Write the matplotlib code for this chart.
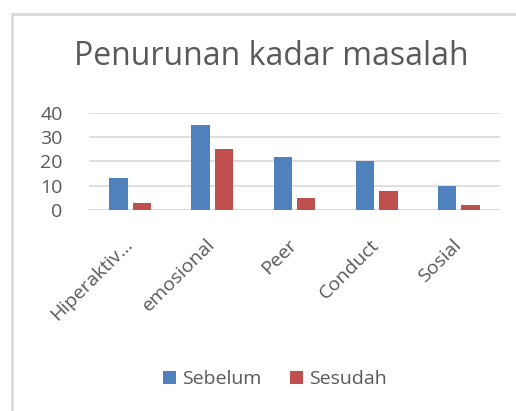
import numpy as np
import matplotlib
matplotlib.use('Agg')
import matplotlib.pyplot as plt
from matplotlib.patches import Rectangle

# data
categories = ['Hiperaktiv…', 'emosional', 'Peer', 'Conduct', 'Sosial']
sebelum = [13, 35, 22, 20, 10]
sesudah = [3, 25, 5, 8, 2]
y_ticks = [0, 10, 20, 30, 40]

BLUE = '#4F81BD'
RED = '#C0504D'
TEXT = '#595959'
GRID = '#D9D9D9'

plt.rcParams['font.family'] = ['Open Sans', 'DejaVu Sans']

W, H = 516, 411
fig = plt.figure(figsize=(W / 100, H / 100), dpi=100)

# light grey chart frame (only left and top edges visible)
fig.patches.append(Rectangle((12 / W, -0.1), 1.2, 1 - 14 / H + 0.1,
                             transform=fig.transFigure, fill=False,
                             edgecolor=GRID, linewidth=2))

# plot area in pixel coordinates
ax = fig.add_axes([89 / W, (H - 210) / H, 411 / W, 97 / H])

x = np.arange(len(categories))
bw = 0.225
ax.bar(x - 0.142, sebelum, bw, color=BLUE, label='Sebelum', zorder=3)
ax.bar(x + 0.142, sesudah, bw, color=RED, label='Sesudah', zorder=3)

ax.set_xlim(-0.5, len(categories) - 0.5)
ax.set_ylim(0, 40)
ax.set_yticks(y_ticks)
ax.grid(axis='y', color=GRID, linewidth=1.2, zorder=0)
for s in ax.spines.values():
    s.set_visible(False)
ax.axhline(0, color=GRID, linewidth=1.2, zorder=1)

ax.tick_params(axis='both', length=0, colors=TEXT)
ax.tick_params(axis='y', labelsize=14, pad=19)
ax.set_xticks(x)
ax.set_xticklabels(categories, rotation=45, ha='right', va='center',
                   rotation_mode='anchor', fontsize=14)
ax.tick_params(axis='x', pad=23)

fig.text(271 / W, 1 - 56 / H, 'Penurunan kadar masalah', ha='center',
         va='center', fontsize=23, color=TEXT)

fig.legend(loc='center', bbox_to_anchor=(275 / W, 1 - 379 / H), ncol=2,
           frameon=False, fontsize=14, handlelength=0.65, handleheight=0.65,
           handletextpad=0.3, columnspacing=1.5, labelcolor=TEXT)

fig.savefig('out.png', dpi=100)
